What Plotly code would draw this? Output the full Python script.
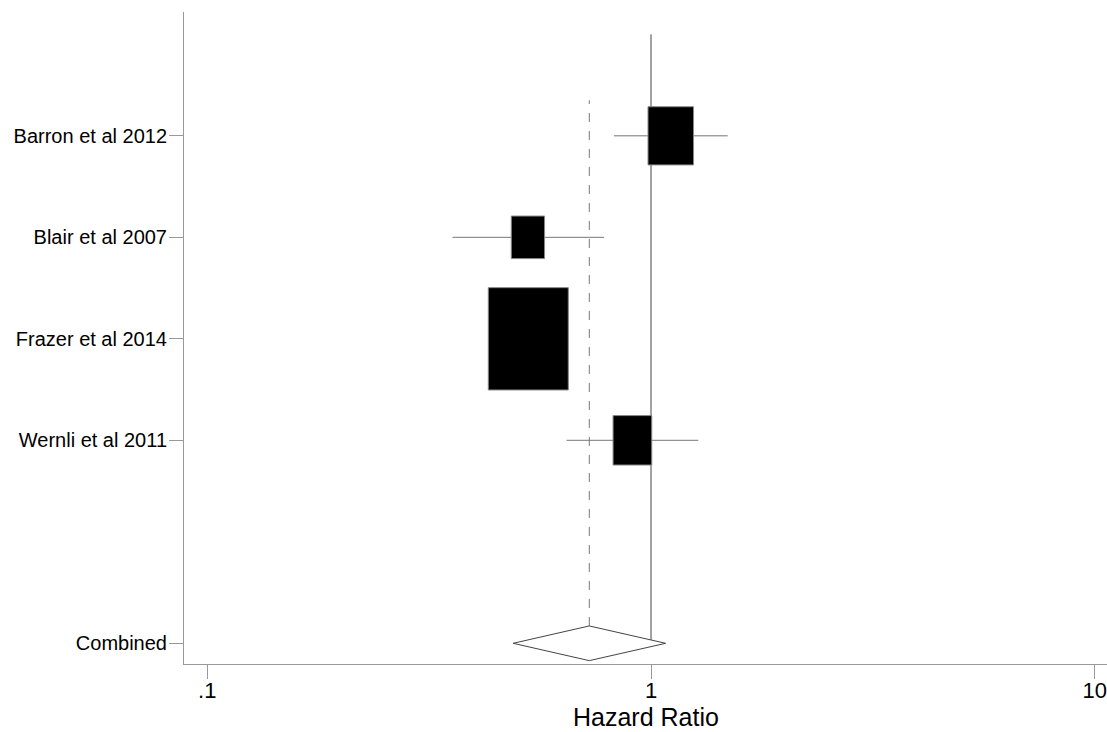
import math
import plotly.graph_objects as go

# ---- data ----
studies = ["Barron et al 2012", "Blair et al 2007", "Frazer et al 2014", "Wernli et al 2011"]
hr = [1.108, 0.528, 0.529, 0.908]
ci_low = [0.825, 0.357, 0.46, 0.645]
ci_high = [1.489, 0.784, 0.61, 1.278]
weights = [18.7, 10.0, 57.8, 13.5]
row_pos = [5, 4, 3, 2]

combined_label = "Combined"
combined_hr = 0.726
combined_low = 0.489
combined_high = 1.079
combined_pos = 0

x_tickvals = [0.1, 1, 10]
x_ticktext = [".1", "1", "10"]
x_title = "Hazard Ratio"

# ---- style ----
FONT = "Liberation Sans, Arial, sans-serif"
BOX_SCALE_X = 0.01186   # decades per sqrt(weight)
BOX_SCALE_Y = 0.0663    # row units per sqrt(weight)
DIAMOND_HALF_H = 0.171
DASH_TOP = 5.35
NULL_TOP = 6.0
AXIS_COL = "#999999"

fig = go.Figure()

# null line at HR=1
fig.add_trace(go.Scatter(x=[1, 1], y=[combined_pos, NULL_TOP], mode="lines",
                         line=dict(color="#444444", width=1), hoverinfo="skip"))
# pooled estimate dashed line
fig.add_trace(go.Scatter(x=[combined_hr, combined_hr], y=[combined_pos + DIAMOND_HALF_H, DASH_TOP],
                         mode="lines", line=dict(color="#777777", width=1, dash="dash"),
                         hoverinfo="skip"))

# CI lines
for lo, hi, p in zip(ci_low, ci_high, row_pos):
    fig.add_trace(go.Scatter(x=[lo, hi], y=[p, p], mode="lines",
                             line=dict(color="#777777", width=1), hoverinfo="skip"))

# boxes (area proportional to weight)
for h, w, p in zip(hr, weights, row_pos):
    s = math.sqrt(w)
    hx = BOX_SCALE_X * s
    hy = BOX_SCALE_Y * s
    c = math.log10(h)
    xs = [10 ** (c - hx), 10 ** (c + hx), 10 ** (c + hx), 10 ** (c - hx), 10 ** (c - hx)]
    ys = [p - hy, p - hy, p + hy, p + hy, p - hy]
    fig.add_trace(go.Scatter(x=xs, y=ys, mode="lines", fill="toself",
                             fillcolor="black", line=dict(color="#888888", width=1),
                             hoverinfo="skip"))

# combined diamond
fig.add_trace(go.Scatter(
    x=[combined_low, combined_hr, combined_high, combined_hr, combined_low],
    y=[combined_pos, combined_pos + DIAMOND_HALF_H, combined_pos,
       combined_pos - DIAMOND_HALF_H, combined_pos],
    mode="lines", fill="toself", fillcolor="white",
    line=dict(color="#444444", width=1), hoverinfo="skip"))

fig.add_annotation(text=x_title, xref="paper", yref="paper", x=0.5, y=-0.082,
                   xanchor="center", yanchor="middle", showarrow=False,
                   font=dict(size=25, family=FONT, color="black"))

fig.update_layout(
    width=1107, height=732,
    margin=dict(l=184, r=0, t=12, b=68, autoexpand=False),
    plot_bgcolor="white", paper_bgcolor="white",
    showlegend=False, hovermode=False,
    font=dict(family=FONT, color="black"),
    xaxis=dict(type="log", range=[-1.0525, 1.0277], automargin=False,
               tickvals=x_tickvals, ticktext=x_ticktext,
               tickfont=dict(size=22), ticklabelstandoff=-7,
               ticklabeloverflow="allow",
               ticks="outside", ticklen=14, tickcolor=AXIS_COL, tickwidth=1,
               showline=True, linecolor=AXIS_COL, linewidth=1,
               showgrid=False, zeroline=False),
    yaxis=dict(range=[-0.204, 6.22], automargin=False,
               tickvals=row_pos + [combined_pos],
               ticktext=studies + [combined_label],
               tickfont=dict(size=20), ticklabelstandoff=-2,
               ticks="outside", ticklen=14, tickcolor=AXIS_COL, tickwidth=1,
               showline=True, linecolor=AXIS_COL, linewidth=1,
               showgrid=False, zeroline=False),
)

fig.write_html("out.html", config={"displayModeBar": False},
               post_script="document.body.style.margin='0px';document.body.style.overflow='hidden';")
